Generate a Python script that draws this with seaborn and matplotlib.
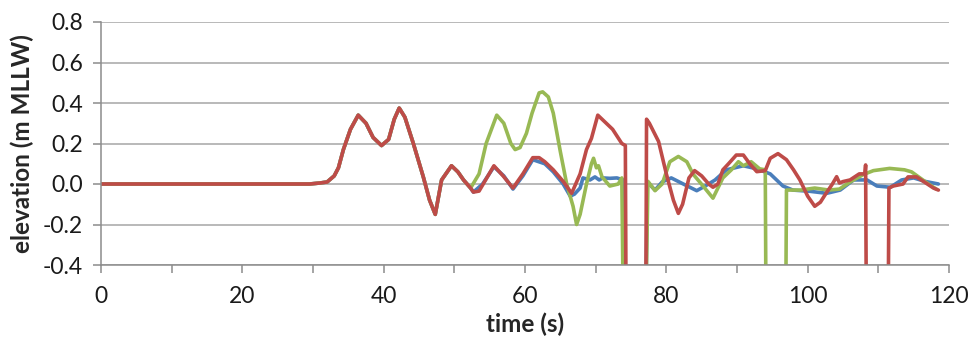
import numpy as np
import pandas as pd
import matplotlib
matplotlib.use("Agg")
import matplotlib.pyplot as plt
import seaborn as sns

# Shared record before the gauges diverge (0 - 52.3 s)
t_common = [0, 29.5, 31, 32, 33, 33.6, 34.3, 35.3, 36.4, 37.5, 38.5, 39.7, 40.7,
            41.5, 42.2, 43, 44.2, 45.6, 46.5, 47.3, 48.2, 49.6, 50.5, 51.3, 52.3]
v_common = [0, 0, 0.005, 0.01, 0.04, 0.08, 0.17, 0.27, 0.34, 0.3, 0.23, 0.19, 0.22,
            0.32, 0.375, 0.33, 0.2, 0.036, -0.08, -0.15, 0.02, 0.09, 0.06, 0.02, -0.02]

# Blue gauge after 52.3 s (-0.6 marks the dropout below the axis)
t_blue = [52.7, 54, 55.6, 57, 58.3, 59.7, 61.1, 62.8, 64, 65.4, 66.4, 67, 67.8,
          68.2, 69.2, 69.9, 70.5, 71, 72, 73, 73.9, 74.0, 77.1,
          77.3, 78.4, 79.4, 80.7, 82.4, 84.3, 85.5, 86.9, 88.5, 90.9, 92.8, 94.7,
          96.5, 97.9, 100.3, 102.7, 104.6, 106.5, 108.4, 109.8, 111.7, 113.3,
          115, 116.6, 118.5]
v_blue = [-0.04, 0.0, 0.085, 0.04, -0.025, 0.04, 0.12, 0.10, 0.06, 0.0, -0.06, -0.05, -0.02,
          0.03, 0.02, 0.035, 0.02, 0.03, 0.028, 0.03, 0.02, -0.6, -0.6,
          0.01, -0.03, 0.01, 0.03, 0.0, -0.033, -0.01, 0.02, 0.07, 0.09, 0.075, 0.05,
          -0.01, -0.03, -0.036, -0.046, -0.03, 0.02, 0.02, -0.01, -0.016, 0.02,
          0.03, 0.013, 0.0]

# Green gauge after 52.3 s
t_green = [53.5, 54.5, 56, 57, 58, 58.6, 59.3, 60.2, 61, 62, 62.5, 63.3, 64, 65,
           65.9, 66.8, 67.3, 67.8, 68.7, 69.4, 69.7, 70.1, 70.4, 70.9, 72, 73.2, 73.7,
           73.9, 77.1, 77.4, 78.4, 79.4, 80.5, 81.7, 82.9, 83.8, 85.2, 86.6, 88,
           89.2, 90.2, 90.9, 92, 93.2, 94, 94.1, 96.9, 97, 99, 101, 103, 104.5,
           106, 107.9, 109.3, 111.6, 113.7, 114.7, 115.9, 117.1, 118.2]
v_green = [0.05, 0.2, 0.34, 0.3, 0.2, 0.17, 0.18, 0.25, 0.35, 0.45, 0.455, 0.43, 0.35, 0.16,
           0.0, -0.11, -0.2, -0.15, 0.0, 0.1, 0.127, 0.08, 0.09, 0.035, -0.01, 0.0, 0.03,
           -0.6, -0.6, 0.013, -0.033, 0.0, 0.11, 0.136, 0.11, 0.048, -0.01, -0.07, 0.03,
           0.07, 0.11, 0.09, 0.11, 0.075, 0.07, -0.6, -0.6, -0.03, -0.03, -0.02, -0.03, -0.025,
           0.01, 0.047, 0.066, 0.077, 0.07, 0.06, 0.03, 0.0, -0.025]

# Red gauge after 52.3 s
t_red = [52.7, 53.5, 55.6, 56.9, 58.3, 59.7, 61.1, 62, 62.8, 64, 65.4, 66.6, 67.8,
         68.7, 69.4, 70.3, 70.9, 71.5, 72.4, 73.7, 74.2, 74.3, 77.1,
         77.2, 77.6, 78.9, 80, 81, 81.7, 82.3, 83.2, 84, 85, 86, 86.6, 87.3, 88,
         88.8, 89.9, 90.9, 91.8, 92.8, 94, 94.7, 95.8, 97, 98, 98.9, 100, 101,
         101.8, 102.6, 103.5, 104.1, 104.5, 105, 106, 107.3, 108.1, 108.2, 108.3,
         111.4, 111.5, 112.1, 113.5, 114.2, 115.4, 116.5, 117.8, 118.5]
v_red = [-0.04, -0.035, 0.09, 0.04, -0.02, 0.05, 0.13, 0.13, 0.11, 0.07, 0.013, -0.046, 0.05,
         0.17, 0.225, 0.34, 0.32, 0.30, 0.27, 0.2, 0.19, -0.6, -0.6,
         0.32, 0.3, 0.21, 0.05, -0.08, -0.145, -0.1, 0.03, 0.066, 0.04, 0.0, -0.016, 0.0, 0.07,
         0.1, 0.143, 0.143, 0.1, 0.061, 0.066, 0.127, 0.15, 0.12, 0.07, 0.02, -0.06, -0.11,
         -0.09, -0.046, 0.0, 0.036, 0.005, 0.012, 0.02, 0.05, 0.05, 0.094, -0.6,
         -0.6, -0.02, -0.01, 0.0, 0.035, 0.035, 0.01, -0.02, -0.03]

series = {
    "blue": (t_common + t_blue, v_common + v_blue),
    "green": (t_common + t_green, v_common + v_green),
    "red": (t_common + t_red, v_common + v_red),
}
frames = []
for name, (t, v) in series.items():
    frames.append(pd.DataFrame({"time": t, "elevation": v, "gauge": name}))
df = pd.concat(frames, ignore_index=True)

palette = {"blue": "#4A7EBB", "green": "#98B954", "red": "#BE4B48"}

sns.set_style("white")
plt.rcParams["font.family"] = ["Lato", "DejaVu Sans"]

fig = plt.figure(figsize=(9.74, 3.5), dpi=100)
ax = fig.add_axes([101 / 974, 1 - 265 / 350, 848 / 974, 243 / 350])

sns.lineplot(data=df, x="time", y="elevation", hue="gauge",
             hue_order=["blue", "green", "red"], palette=palette,
             estimator=None, sort=False, lw=2.6, legend=False, ax=ax)
for line in ax.get_lines():
    line.set_solid_joinstyle("round")
    line.set_solid_capstyle("round")

ax.set_xlim(0, 120)
ax.set_ylim(-0.4, 0.8)
ax.set_xticks(np.arange(0, 121, 20))
ax.set_xticks(np.arange(10, 120, 20), minor=True)
ax.set_yticks(np.arange(-0.4, 0.81, 0.2))
ax.set_yticklabels([f"{y:.1f}" for y in np.arange(-0.4, 0.81, 0.2)])
ax.grid(axis="y", color="#A6A6A6", lw=1.1)
ax.set_axisbelow(True)

for side in ["top", "right"]:
    ax.spines[side].set_visible(False)
for side in ["left", "bottom"]:
    ax.spines[side].set_color("#8C8C8C")
    ax.spines[side].set_linewidth(1.1)

ax.tick_params(axis="both", which="both", direction="out", length=6,
               width=1.1, color="#8C8C8C", labelsize=16.5, labelcolor="#1a1a1a")
ax.tick_params(axis="x", which="both", bottom=True, pad=9)
ax.tick_params(axis="y", left=True, pad=7)

ax.set_xlabel("time (s)", fontsize=17.5, fontweight="bold", labelpad=4)
ax.set_ylabel("elevation (m MLLW)", fontsize=17.5, fontweight="bold", labelpad=6)

fig.savefig("out.png", dpi=100)
